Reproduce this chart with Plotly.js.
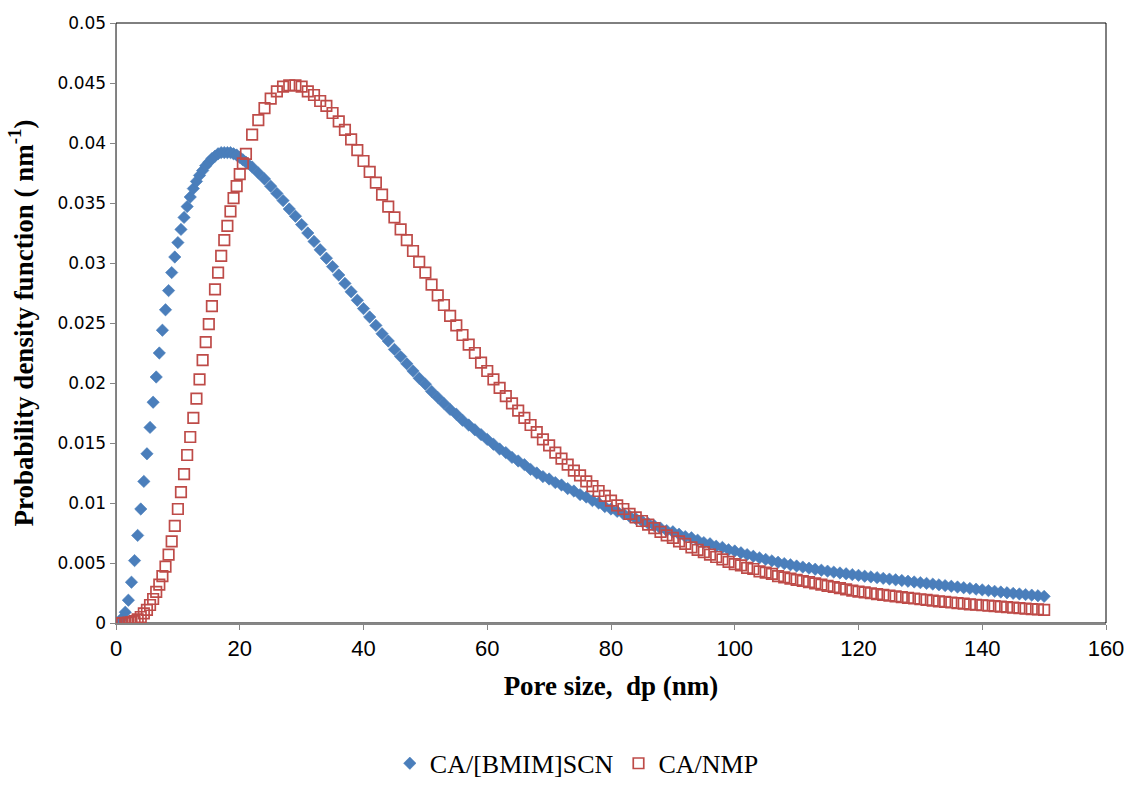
<!DOCTYPE html>
<html>
<head>
<meta charset="utf-8">
<script src="https://cdn.plot.ly/plotly-3.0.1.min.js"></script>
<style>html,body{margin:0;padding:0;background:#fff;}#chart{width:1131px;height:790px;}</style>
</head>
<body>
<div id="chart"></div>
<script>
// Pore size (nm)
const poreSize = [
  0,0.5,1,1.5,2,2.5,3,3.5,4,4.5,5,5.5,6,6.5,7,7.5,8,8.5,9,9.5,
  10,10.5,11,11.5,12,12.5,13,13.5,14,14.5,15,15.5,16,16.5,17,17.5,18,18.5,19,19.5,
  20,20.5,21,
  22,23,24,25,26,27,28,29,30,31,
  32,33,34,35,36,37,38,39,40,41,
  42,43,44,45,46,47,48,49,50,51,
  52,53,54,55,56,57,58,59,60,61,
  62,63,64,65,66,67,68,69,70,71,
  72,73,74,75,76,77,78,79,80,81,
  82,83,84,85,86,87,88,89,90,91,
  92,93,94,95,96,97,98,99,100,101,
  102,103,104,105,106,107,108,109,110,111,
  112,113,114,115,116,117,118,119,120,121,
  122,123,124,125,126,127,128,129,130,131,
  132,133,134,135,136,137,138,139,140,141,
  142,143,144,145,146,147,148,149,150
];

// CA/[BMIM]SCN probability density (nm^-1)
const pdfBMIM = [
  0,0.0001,0.0004,0.0009,0.0019,0.0034,0.0052,0.0073,0.0095,0.0118,
  0.0141,0.0163,0.0184,0.0205,0.0225,0.0244,0.0261,0.0277,0.0292,0.0305,
  0.0317,0.0328,0.0338,0.0347,0.0355,0.0362,0.0368,0.0373,0.0377,0.0381,
  0.0384,0.0387,0.0389,0.0391,0.0392,0.0392,0.0392,0.0392,0.0391,0.0390,
  0.0388,0.0386,0.0384,
  0.0380,0.0375,0.0370,0.0364,0.0358,0.0352,0.0345,0.0339,0.0332,0.0325,
  0.0318,0.0311,0.0304,0.0297,0.0290,0.0283,0.0276,0.0269,0.0262,0.0255,
  0.0248,0.0241,0.0235,0.0228,0.0222,0.0216,0.0210,0.0204,0.0199,0.0193,
  0.0188,0.0183,0.0178,0.0174,0.0169,0.0165,0.0161,0.0157,0.0153,0.0149,
  0.0145,0.0142,0.0138,0.0135,0.0132,0.0128,0.0125,0.0122,0.0120,0.0117,
  0.0115,0.0112,0.0110,0.0107,0.0105,0.0102,0.0100,0.0097,0.0095,0.0093,
  0.0091,0.0089,0.0087,0.0085,0.0083,0.0081,0.0079,0.0077,0.0076,0.0074,
  0.0072,0.0071,0.0069,0.0067,0.0066,0.0064,0.0063,0.0061,0.0060,0.00585,
  0.0057,0.00556,0.00543,0.0053,0.00518,0.00506,0.00495,0.00485,0.00475,0.00466,
  0.00457,0.00448,0.0044,0.00432,0.00424,0.00417,0.0041,0.00403,0.00397,0.0039,
  0.00384,0.00378,0.00372,0.00366,0.0036,0.00354,0.00348,0.00342,0.00336,0.0033,
  0.00324,0.00318,0.00312,0.00306,0.003,0.00294,0.00288,0.00282,0.00276,0.0027,
  0.00264,0.00258,0.00252,0.00247,0.00242,0.00237,0.00232,0.00227,0.00222
];

// CA/NMP probability density (nm^-1)
const pdfNMP = [
  0,0,0,0.00001,0.00003,0.00008,0.00016,0.0003,0.0005,0.0008,
  0.0011,0.0015,0.0020,0.0026,0.0032,0.0039,0.0047,0.0057,0.0068,0.0081,
  0.0095,0.0109,0.0124,0.0140,0.0155,0.0171,0.0187,0.0203,0.0219,0.0234,
  0.0249,0.0264,0.0278,0.0292,0.0306,0.0319,0.0331,0.0343,0.0354,0.0364,
  0.0374,0.0383,0.0391,
  0.0407,0.0419,0.0429,0.0437,0.0443,0.0447,0.0448,0.0448,0.0447,0.0443,
  0.0440,0.0435,0.0431,0.0425,0.0418,0.0411,0.0403,0.0394,0.0385,0.0376,
  0.0367,0.0357,0.0347,0.0338,0.0328,0.0319,0.0310,0.0301,0.0292,0.0282,
  0.0273,0.0265,0.0256,0.0248,0.0240,0.0232,0.0225,0.0217,0.0210,0.0203,
  0.0196,0.0189,0.0183,0.0177,0.0171,0.0165,0.0159,0.0153,0.0148,0.0142,
  0.0137,0.0132,0.0127,0.0123,0.0118,0.0114,0.0110,0.0106,0.0102,0.0098,
  0.0095,0.0091,0.0088,0.0085,0.0082,0.0079,0.0076,0.0073,0.0071,0.0068,
  0.0066,0.0063,0.0061,0.0059,0.0057,0.0055,0.0053,0.0051,0.0049,0.0048,
  0.0046,0.0045,0.0043,0.0042,0.0041,0.0039,0.0038,0.0037,0.0036,0.0035,
  0.0034,0.0033,0.0032,0.0031,0.0030,0.0029,0.0028,0.0027,0.00262,0.00255,
  0.00248,0.00241,0.00234,0.00228,0.00222,0.00216,0.0021,0.00204,0.00198,0.00192,
  0.00186,0.00181,0.00176,0.00171,0.00166,0.00161,0.00156,0.00152,0.00148,0.00144,
  0.0014,0.00136,0.00132,0.00128,0.00124,0.0012,0.00116,0.00113,0.0011
];

const xTickVals = [0,20,40,60,80,100,120,140,160];
const xTickText = ["0","20","40","60","80","100","120","140","160"];
const yTickVals = [0,0.005,0.01,0.015,0.02,0.025,0.03,0.035,0.04,0.045,0.05];
const yTickText = ["0","0.005","0.01","0.015","0.02","0.025","0.03","0.035","0.04","0.045","0.05"];

const seriesNames = ["CA/[BMIM]SCN", "CA/NMP"];

const traces = [
  {
    x: poreSize, y: pdfBMIM, name: seriesNames[0], type: 'scatter', mode: 'markers',
    marker: {symbol: 'diamond', size: 9.5, color: '#4A7EBB', line: {color: '#4A7EBB', width: 0.6}}
  },
  {
    x: poreSize, y: pdfNMP, name: seriesNames[1], type: 'scatter', mode: 'markers',
    marker: {symbol: 'square-open', size: 10.5, color: '#BE4B48', line: {color: '#BE4B48', width: 1.7}}
  }
];

const serif = 'Liberation Serif, Times New Roman, serif';
const layout = {
  width: 1131, height: 790,
  margin: {l: 116, r: 25, t: 23, b: 167},
  paper_bgcolor: '#ffffff', plot_bgcolor: '#ffffff',
  showlegend: true,
  legend: {
    orientation: 'h', xref: 'container', yref: 'container',
    x: 0.51, xanchor: 'center', y: 0.004, yanchor: 'bottom',
    font: {family: serif, size: 26, color: '#000000'}
  },
  xaxis: {
    range: [0, 160], tickmode: 'array', tickvals: xTickVals, ticktext: xTickText,
    automargin: false,
    ticks: 'outside', ticklen: 5, tickcolor: '#868686', tickwidth: 1,
    showline: true, linecolor: '#868686', linewidth: 1.5,
    showgrid: false, zeroline: false,
    tickfont: {family: 'Liberation Sans, Arial, sans-serif', size: 22, color: '#000000'},
    title: {text: '<b>Pore size,  dp (nm)</b>', font: {family: serif, size: 27, color: '#000000'}, standoff: 16}
  },
  yaxis: {
    range: [0, 0.05], tickmode: 'array', tickvals: yTickVals, ticktext: yTickText,
    automargin: false,
    ticks: 'outside', ticklen: 5, tickcolor: '#868686', tickwidth: 1,
    showline: true, linecolor: '#868686', linewidth: 1.5,
    showgrid: false, zeroline: false,
    tickfont: {family: 'DejaVu Sans, Verdana, sans-serif', size: 17, color: '#000000'},
    title: {text: '<b>Probability density function ( nm<sup>-1</sup>)</b>', font: {family: serif, size: 27, color: '#000000'}, standoff: 16}
  },
  shapes: [
    {type: 'rect', xref: 'paper', yref: 'paper', x0: 0, y0: 0, x1: 1, y1: 1, layer: 'below', line: {color: '#000000', width: 1}}
  ]
};

Plotly.newPlot('chart', traces, layout, {displayModeBar: false, staticPlot: true});
</script>
</body>
</html>
